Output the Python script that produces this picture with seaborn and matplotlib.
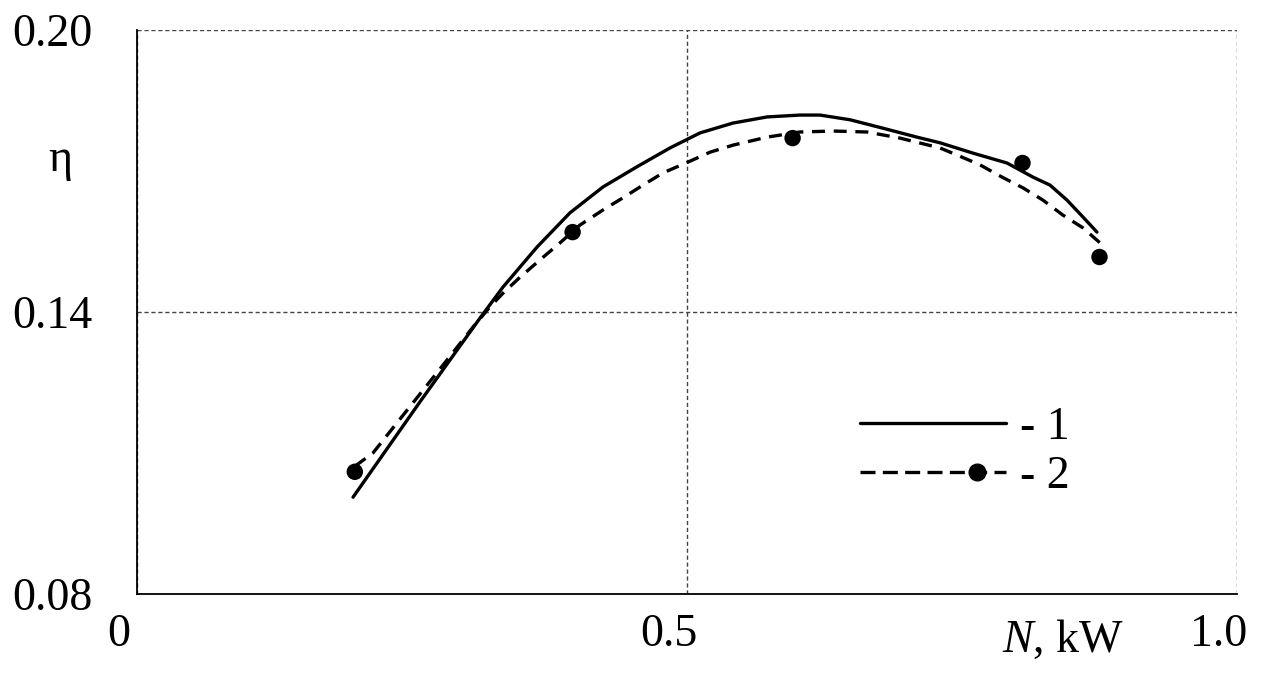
import matplotlib
matplotlib.use("Agg")
import matplotlib.pyplot as plt
import matplotlib.transforms as mtransforms
from matplotlib.lines import Line2D
from matplotlib.legend_handler import HandlerLine2D
import seaborn as sns
import pandas as pd

# Curve 1 (solid)
x1 = [0.1964, 0.2273, 0.2573, 0.2864, 0.3118, 0.3327, 0.3636, 0.3936, 0.4236, 0.4545,
      0.4845, 0.5118, 0.5418, 0.5727, 0.6027, 0.6209, 0.6482, 0.6782, 0.7091, 0.7300,
      0.7600, 0.7909, 0.8145, 0.8300, 0.8455, 0.8600, 0.8727]
y1 = [0.1006, 0.1109, 0.1209, 0.1304, 0.1387, 0.1453, 0.1538, 0.1611, 0.1666, 0.1709,
      0.1749, 0.1781, 0.1802, 0.1815, 0.1819, 0.1819, 0.1809, 0.1791, 0.1772, 0.1760,
      0.1738, 0.1717, 0.1687, 0.1670, 0.1638, 0.1602, 0.1570]
# Curve 2 (dashed)
x2 = [0.1982, 0.2145, 0.2455, 0.2755, 0.3055, 0.3209, 0.3327, 0.3482, 0.3664, 0.3845,
      0.4027, 0.4236, 0.4418, 0.4600, 0.4782, 0.5009, 0.5209, 0.5418, 0.5727, 0.6027,
      0.6327, 0.6636, 0.6936, 0.7300, 0.7455, 0.7664, 0.7864, 0.8055, 0.8236, 0.8418,
      0.8600, 0.8755]
y2 = [0.1072, 0.1100, 0.1191, 0.1279, 0.1368, 0.1411, 0.1440, 0.1474, 0.1511, 0.1547,
      0.1585, 0.1617, 0.1643, 0.1670, 0.1696, 0.1719, 0.1740, 0.1755, 0.1772, 0.1783,
      0.1785, 0.1783, 0.1770, 0.1749, 0.1734, 0.1713, 0.1687, 0.1664, 0.1638, 0.1606,
      0.1579, 0.1547]
# Experimental points (curve 2)
xp = [0.198, 0.396, 0.596, 0.805, 0.875]
yp = [0.106, 0.157, 0.177, 0.1717, 0.1517]

x_ticks = [0, 0.5, 1.0]
x_tick_labels = ["0", "0.5", "1.0"]
y_ticks = [0.08, 0.14, 0.20]
y_tick_labels = ["0.08", "0.14", "0.20"]
legend_labels = ["- 1", "- 2"]

sns.set_theme(style="white")
plt.rcParams["font.family"] = ["Liberation Serif", "DejaVu Serif"]
plt.rcParams["mathtext.fontset"] = "custom"
plt.rcParams["mathtext.rm"] = "Liberation Serif"
plt.rcParams["mathtext.it"] = "Liberation Serif:italic"
plt.rcParams["text.color"] = "black"

FS = 33
LW = 2.4
DASH = [3.9, 2.6]
fig = plt.figure(figsize=(12.75, 6.89), dpi=100)
ax = fig.add_axes([137/1275, 1-594/689, 1100/1275, 564/689])

df1 = pd.DataFrame({"x": x1, "y": y1})
df2 = pd.DataFrame({"x": x2, "y": y2})
dfp = pd.DataFrame({"x": xp, "y": yp})

sns.lineplot(data=df1, x="x", y="y", ax=ax, color="black", lw=LW, sort=False)
sns.lineplot(data=df2, x="x", y="y", ax=ax, color="black", lw=LW, sort=False)
ax.lines[-1].set_dashes(DASH)
for ln in ax.lines:
    ln.set_solid_joinstyle("round")
    ln.set_dash_joinstyle("round")
sns.scatterplot(data=dfp, x="x", y="y", ax=ax, color="black", s=140,
                edgecolor="none", zorder=5)

ax.set_xlim(0, 1.0)
ax.set_ylim(0.08, 0.20)
ax.set_xticks(x_ticks)
ax.set_xticklabels(x_tick_labels)
ax.set_yticks(y_ticks)
ax.set_yticklabels(y_tick_labels)
ax.tick_params(axis="both", length=0, labelsize=FS, colors="black")
ax.tick_params(axis="y", pad=32)
ax.tick_params(axis="x", pad=14)
offset = mtransforms.ScaledTranslation(-18/100, 0, fig.dpi_scale_trans)
for lab in ax.get_xticklabels():
    lab.set_transform(lab.get_transform() + offset)

ax.grid(True, color="#444444", lw=1.0, ls=(0, (3, 2)))
for s in ["top", "right"]:
    ax.spines[s].set_visible(False)
for s in ["left", "bottom"]:
    ax.spines[s].set_visible(True)
    ax.spines[s].set_color("black")
    ax.spines[s].set_linewidth(1.3)
    ax.spines[s].set_zorder(3)

ax.set_xlabel("")
ax.set_ylabel("")
fig.text(1063/1275, 1-640/689, r"$\it{N}$, kW", fontsize=FS, ha="center", va="center",
         color="black")
fig.text(60/1275, 1-160/689, "η", fontsize=FS, ha="center", va="center", color="black")


class MarkerRightHandler(HandlerLine2D):
    def create_artists(self, legend, orig_handle, xdescent, ydescent, width, height,
                       fontsize, trans):
        arts = super().create_artists(legend, orig_handle, xdescent, ydescent, width,
                                      height, fontsize, trans)
        for a in arts:
            xd = list(a.get_xdata())
            if len(xd) == 3:
                xd[1] = xd[0] + 0.80 * (xd[2] - xd[0])
                a.set_xdata(xd)
        return arts


h1 = Line2D([], [], color="black", lw=LW)
h2 = Line2D([], [], color="black", lw=LW, dashes=[4.5, 2.2], marker="o", markersize=12)
leg = ax.legend([h1, h2], legend_labels, loc="upper left", bbox_to_anchor=(0.657, 0.333),
                frameon=False, fontsize=FS, handlelength=3.2, handletextpad=0.3,
                labelspacing=0.15, borderpad=0, borderaxespad=0, numpoints=1,
                handler_map={h2: MarkerRightHandler()})
for t in leg.get_texts():
    t.set_color("black")

fig.savefig("out.png", dpi=100, facecolor="white")
